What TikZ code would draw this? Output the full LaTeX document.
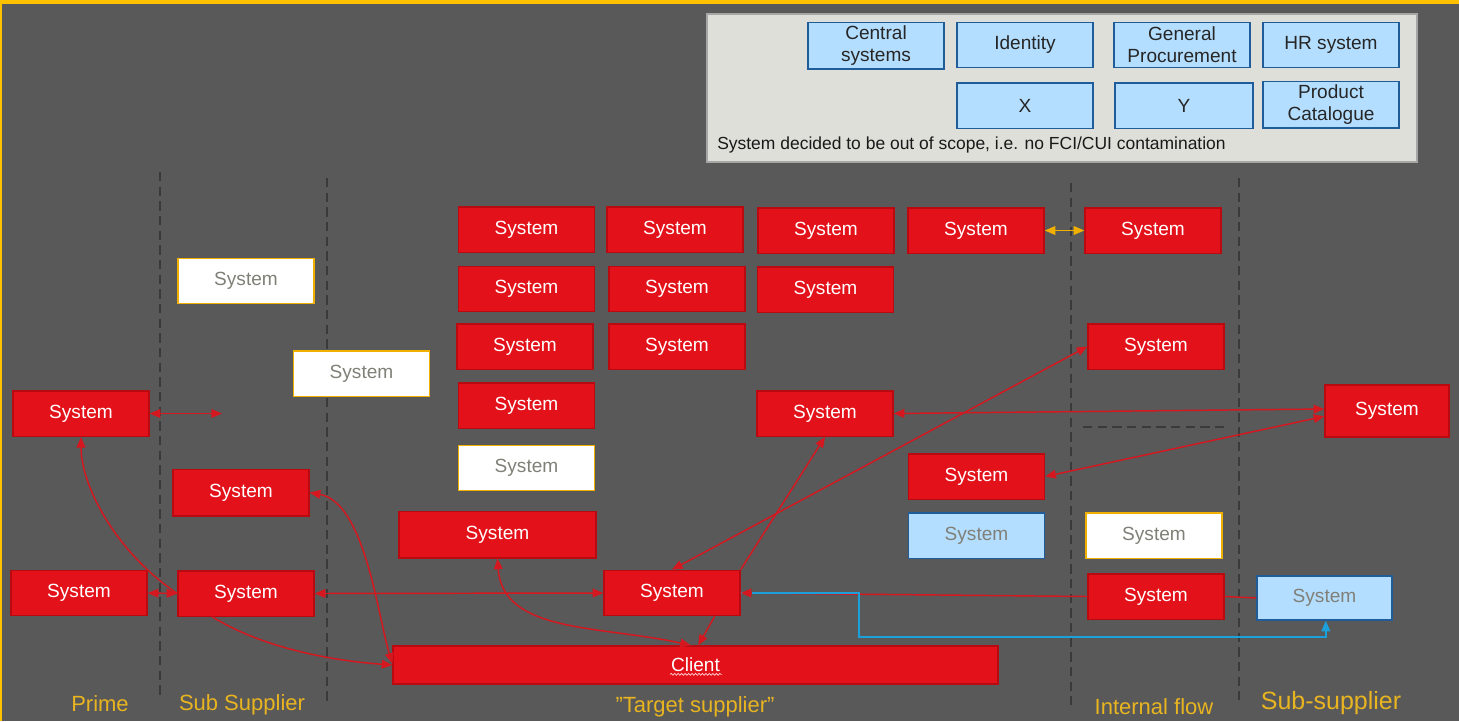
\documentclass[tikz,border=0pt]{standalone}
\usepackage{fontspec}
\setmainfont{Liberation Sans}
\usetikzlibrary{arrows.meta,calc,decorations.pathmorphing}
\definecolor{bg}{HTML}{595959}
\definecolor{topyellow}{HTML}{FFC000}
\definecolor{boxred}{HTML}{E3121A}
\definecolor{boxredline}{HTML}{B80A10}
\definecolor{linered}{HTML}{D51820}
\definecolor{gold}{HTML}{F0B000}
\definecolor{labelgold}{HTML}{E8B420}
\definecolor{lblue}{HTML}{B4DEFF}
\definecolor{dblue}{HTML}{1F5C99}
\definecolor{txtgray}{HTML}{808078}
\definecolor{cyanline}{HTML}{1CA0DC}
\definecolor{legbg}{HTML}{DFDFD9}
\definecolor{legline}{HTML}{A6A6A6}
\definecolor{dashgray}{HTML}{3A3A3A}
\begin{document}
\begin{tikzpicture}[x=0.75pt,y=-0.75pt,
  box/.style={rectangle,inner sep=0pt,minimum width=102pt,minimum height=34pt,line width=1pt,font=\fontsize{14.3}{16}\selectfont},
  redbox/.style={box,fill=boxred,draw=boxredline,text=white},
  whitebox/.style={box,fill=white,draw=gold,text=txtgray},
  bluebox/.style={box,fill=lblue,draw=dblue,text=txtgray},
  legbox/.style={box,fill=lblue,draw=dblue,text=black!85,align=center,font=\fontsize{14.3}{16.5}\selectfont},
  lane/.style={draw=dashgray,line width=1pt,dash pattern=on 7pt off 4pt},
  lanelabel/.style={text=labelgold,font=\fontsize{16.5}{18}\selectfont},
  tip/.tip={Triangle[length=8pt,width=6.5pt]},
  arr/.style={-tip},
  darr/.style={tip-tip},
  rline/.style={draw=linered,line width=1.1pt},
  bline/.style={draw=cyanline,line width=1.4pt},
  yline/.style={draw=gold,line width=1.1pt}]
% background
\fill[bg] (0,0) rectangle (1459,721);
\fill[topyellow] (0,0) rectangle (1459,4);
\fill[topyellow] (0,0) rectangle (1.5,721);
\useasboundingbox (0,0) rectangle (1459,721);
% legend
\draw[fill=legbg,draw=legline,line width=1pt] (707,14) rectangle (1417,162);
\node[legbox,minimum height=35pt] (L1) at (876,45.5) {Central\\systems};
\node[legbox] (L2) at (1025,45) {Identity};
\node[legbox] (L3) at (1182,45) {General\\Procurement};
\node[legbox] (L4) at (1331,45) {HR system};
\node[legbox] (L5) at (1025,105.5) {X};
\node[legbox,minimum width=103.5pt] (L6) at (1184,105.5) {Y};
\node[legbox,minimum height=35pt] (L7) at (1331,104.5) {Product\\Catalogue};
\node[anchor=west,inner sep=0pt,text=black!90,font=\fontsize{13.1}{15}\selectfont] (LT) at (717,145) {System decided to be out of scope, i.e. no FCI/CUI contamination};
% lanes
\draw[lane] (160,172) -- (160,700);
\draw[lane] (327,178) -- (327,703);
\draw[lane] (1071,183) -- (1071,705);
\draw[lane] (1239,178) -- (1239,700);
\draw[lane] (1083,427) -- (1227,427);
% boxes
\node[redbox] (P1) at (81,413.5) {System};
\node[redbox] (P2) at (79,593) {System};
\node[whitebox] (W1) at (246,281) {System};
\node[whitebox] (W2) at (361.5,373.5) {System};
\node[redbox,minimum height=35pt] (S1) at (241,492.5) {System};
\node[redbox] (S2) at (246,593.5) {System};
\node[redbox] (A1) at (526.5,229.5) {System};
\node[redbox] (A2) at (675,229.5) {System};
\node[redbox] (A3) at (826,230.5) {System};
\node[redbox] (A4) at (976,230.5) {System};
\node[redbox] (B1) at (526.5,289) {System};
\node[redbox] (B2) at (677,289) {System};
\node[redbox] (B3) at (825.5,289.5) {System};
\node[redbox] (C1) at (525,346.5) {System};
\node[redbox] (C2) at (677,346.5) {System};
\node[redbox] (D1) at (526.5,405.5) {System};
\node[whitebox] (W3) at (526.5,468) {System};
\node[redbox,minimum width=147.75pt,minimum height=35pt] (R) at (497.5,534.5) {System};
\node[redbox] (T1) at (825,413.5) {System};
\node[redbox] (T2) at (976.5,476.5) {System};
\node[bluebox] (LB1) at (976.5,535.5) {System};
\node[redbox] (CEN) at (672,593) {System};
\node[redbox,minimum width=453.75pt,minimum height=28.5pt] (CLI) at (695.5,665) {Client};
\node[redbox] (I1) at (1153,230.5) {System};
\node[redbox] (I2) at (1156,346.5) {System};
\node[whitebox] (W4) at (1154,535.5) {System};
\node[redbox] (I3) at (1156,596.5) {System};
\node[redbox,minimum width=93pt,minimum height=39pt] (SS1) at (1387,411) {System};
\node[bluebox,minimum width=101.25pt,minimum height=33pt] (LB2) at (1324.5,598) {System};
% spell-check squiggle under Client
\draw[white!85!red,line width=0.5pt,decorate,decoration={snake,amplitude=0.7pt,segment length=2.6pt}]
  ([xshift=-19pt,yshift=-7pt]CLI.center) -- ([xshift=20pt,yshift=-7pt]CLI.center);
% lane labels
\node[lanelabel] (LP) at (100,704) {Prime};
\node[lanelabel] (LS) at (242,705) {Sub Supplier};
\node[lanelabel] (LTS) at (695,707) {”Target supplier”};
\node[lanelabel] (LI) at (1154,707) {Internal flow};
\node[lanelabel,font=\fontsize{18.75}{20}\selectfont] (LSS) at (1331,703) {Sub-supplier};
% connectors
\coordinate (p1free) at (222,413.5);
\draw[rline,darr] (P1.east) -- (p1free);
\draw[rline,darr] (P2.east) -- (S2.west);
\draw[rline,arr] (S2.west) .. controls +(-60,-40) and +(0,50) .. (P1.south);
\draw[rline,arr] ([xshift=26.25pt]S2.south west) .. controls +(45,28) and +(-70,-5) .. (CLI.west);
\draw[rline,darr] (S1.east) .. controls +(55,10) and +(-15,-50) .. ([yshift=1pt]CLI.west);
\draw[rline,darr] (S2.east) -- (CEN.west);
\draw[rline,darr] (R.south) .. controls +(5,75) and +(-90,-20) .. ([xshift=-3.5pt]CLI.north);
\draw[rline,arr] ([xshift=32pt]CEN.south) -- ([xshift=2pt]CLI.north);
\draw[rline,arr] (CEN.north east) -- (T1.south);
\draw[rline,darr] (I2.west) -- (CEN.north);
\draw[rline,darr] (T1.east) -- ([yshift=1.5pt]SS1.west);
\draw[rline,darr] (T2.east) -- ([yshift=-4pt]SS1.west);
\draw[yline,darr] (A4.east) -- (I1.west);
\draw[rline] (I3.west) -- (CEN.east);
\draw[rline] (I3.east) -- (LB2.west);
\draw[bline,arr] (CEN.east) -- ++(118,0) -- ++(0,44) -| ([xshift=1pt]LB2.south);
\draw[rline,arr] ([xshift=8pt]CEN.east) -- (CEN.east);
\end{tikzpicture}
\end{document}
